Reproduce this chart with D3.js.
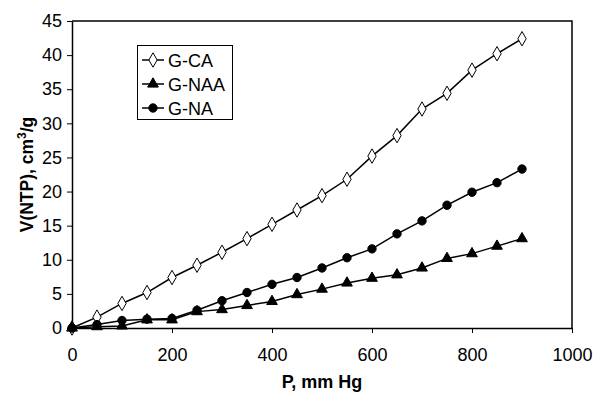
<!DOCTYPE html>
<html>
<head>
<meta charset="utf-8">
<script src="https://cdn.jsdelivr.net/npm/d3@7"></script>
<style>
  body { margin: 0; background: #fff; }
  svg { display: block; font-family: "Liberation Sans", Arial, sans-serif; }
</style>
</head>
<body>
<svg width="594" height="394"></svg>
<script>
var svg = d3.select("svg"),
    margin = {top: 21, right: 22, bottom: 66, left: 72},
    width = 594 - margin.left - margin.right,
    height = 394 - margin.top - margin.bottom;

// pressure, mm Hg
var pressure = [0, 50, 100, 150, 200, 250, 300, 350, 400, 450, 500, 550, 600, 650, 700, 750, 800, 850, 900];
// adsorbed volume, cm3/g
var gCA  = [0, 1.6, 3.6, 5.2, 7.4, 9.2, 11.1, 13.1, 15.2, 17.3, 19.4, 21.8, 25.2, 28.2, 32.1, 34.4, 37.8, 40.2, 42.4];
var gNAA = [0, 0.2, 0.3, 1.2, 1.2, 2.4, 2.7, 3.3, 3.9, 4.9, 5.7, 6.6, 7.3, 7.8, 8.8, 10.2, 10.9, 12.0, 13.1];
var gNA  = [0, 0.5, 1.1, 1.3, 1.4, 2.6, 4.0, 5.2, 6.4, 7.4, 8.8, 10.3, 11.6, 13.8, 15.7, 18.0, 19.9, 21.3, 23.3];

var seriesNames = ["G-CA", "G-NAA", "G-NA"];
var xTicks = [0, 200, 400, 600, 800, 1000];
var yTicks = [0, 5, 10, 15, 20, 25, 30, 35, 40, 45];

var series = [
    {name: seriesNames[0], values: gCA, symbol: d3.symbolDiamond, fill: "#fff", size: 60},
    {name: seriesNames[1], values: gNAA, symbol: d3.symbolTriangle, fill: "#000", size: 50},
    {name: seriesNames[2], values: gNA, symbol: d3.symbolCircle, fill: "#000", size: 55}
];

var x = d3.scaleLinear().domain([0, 1000]).range([0, width]);
var y = d3.scaleLinear().domain([0, 45]).range([height, 0]);

var g = svg.append("g").attr("transform", "translate(" + margin.left + "," + margin.top + ")");

// plot area border (top, right)
g.append("path")
    .attr("d", "M0,0H" + width + "V" + height)
    .attr("fill", "none")
    .attr("stroke", "#000")
    .attr("stroke-width", 1.5);

var xAxis = g.append("g")
    .attr("transform", "translate(0," + height + ")")
    .call(d3.axisBottom(x).tickValues(xTicks).tickFormat(d3.format("d"))
        .tickSize(5).tickPadding(15).tickSizeOuter(0));

var yAxis = g.append("g")
    .call(d3.axisLeft(y).tickValues(yTicks).tickSize(5).tickPadding(5).tickSizeOuter(0));

[xAxis, yAxis].forEach(function(a) {
    a.selectAll("text").attr("font-size", 18).attr("fill", "#000").attr("font-family", "Liberation Sans, Arial, sans-serif");
    a.selectAll("line").attr("stroke", "#000");
    a.select(".domain").attr("stroke", "#000").attr("stroke-width", 1.5);
});

var line = d3.line()
    .x(function(d, i) { return x(pressure[i]); })
    .y(function(d) { return y(d); });

series.forEach(function(s) {
    g.append("path")
        .datum(s.values)
        .attr("d", line)
        .attr("fill", "none")
        .attr("stroke", "#000")
        .attr("stroke-width", 1.5);

    g.selectAll(null)
        .data(s.values)
        .enter().append("path")
        .attr("d", d3.symbol().type(s.symbol).size(s.size))
        .attr("transform", function(d, i) { return "translate(" + x(pressure[i]) + "," + y(d) + ")"; })
        .attr("fill", s.fill)
        .attr("stroke", "#000")
        .attr("stroke-width", 1);
});

// legend
var legend = svg.append("g").attr("transform", "translate(137,45)");
legend.append("rect")
    .attr("x", 0.5).attr("y", 0.5)
    .attr("width", 95).attr("height", 74)
    .attr("fill", "#fff")
    .attr("stroke", "#000");

series.forEach(function(s, i) {
    var ly = 15 + i * 24;
    legend.append("line")
        .attr("x1", 5).attr("x2", 27)
        .attr("y1", ly).attr("y2", ly)
        .attr("stroke", "#000").attr("stroke-width", 1.5);
    legend.append("path")
        .attr("d", d3.symbol().type(s.symbol).size(s.size))
        .attr("transform", "translate(16," + ly + ")")
        .attr("fill", s.fill)
        .attr("stroke", "#000");
    legend.append("text")
        .attr("x", 31).attr("y", ly + 6.5)
        .attr("font-size", 18)
        .text(s.name);
});

// axis titles
svg.append("text")
    .attr("x", margin.left + width / 2)
    .attr("y", 388)
    .attr("text-anchor", "middle")
    .attr("font-size", 18)
    .attr("font-weight", "bold")
    .text("P, mm Hg");

var yt = svg.append("text")
    .attr("transform", "translate(33," + (margin.top + height / 2) + ") rotate(-90)")
    .attr("text-anchor", "middle")
    .attr("font-size", 17.5)
    .attr("font-weight", "bold");
yt.append("tspan").text("V(NTP), cm");
yt.append("tspan").attr("font-size", 12).attr("dy", -7).text("3");
yt.append("tspan").attr("dy", 7).text("/g");
</script>
</body>
</html>
